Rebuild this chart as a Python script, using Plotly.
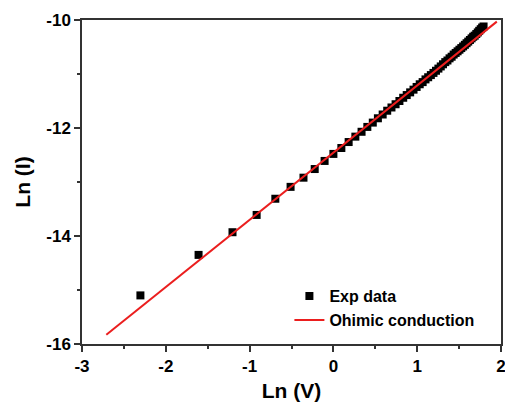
import plotly.graph_objects as go

# Experimental data: Ln(V) and Ln(I)
ln_v = [-2.303, -1.609, -1.204, -0.916, -0.693, -0.511, -0.357, -0.223, -0.105, 0.000,
        0.095, 0.182, 0.262, 0.336, 0.405, 0.470, 0.531, 0.588, 0.642, 0.693,
        0.742, 0.788, 0.833, 0.875, 0.916, 0.956, 0.993, 1.030, 1.065, 1.099,
        1.131, 1.163, 1.194, 1.224, 1.253, 1.281, 1.308, 1.335, 1.361, 1.386,
        1.411, 1.435, 1.459, 1.482, 1.504, 1.526, 1.548, 1.569, 1.589, 1.609,
        1.629, 1.649, 1.668, 1.686, 1.705, 1.723, 1.740, 1.758, 1.775, 1.792]
ln_i = [-15.10, -14.35, -13.93, -13.61, -13.31, -13.09, -12.92, -12.76, -12.61, -12.48,
        -12.37, -12.26, -12.16, -12.07, -11.98, -11.90, -11.82, -11.75, -11.68, -11.62,
        -11.56, -11.50, -11.44, -11.39, -11.34, -11.29, -11.24, -11.19, -11.15, -11.10,
        -11.06, -11.02, -10.98, -10.94, -10.90, -10.86, -10.82, -10.78, -10.75, -10.71,
        -10.68, -10.64, -10.61, -10.58, -10.55, -10.52, -10.49, -10.46, -10.43, -10.40,
        -10.37, -10.34, -10.31, -10.29, -10.26, -10.23, -10.20, -10.17, -10.14, -10.12]

# Ohmic conduction fit line
fit_x = [-2.71, 1.95]
fit_y = [-15.83, -10.03]

x_ticks = [-3, -2, -1, 0, 1, 2]
x_labels = ["-3", "-2", "-1", "0", "1", "2"]
y_ticks = [-16, -14, -12, -10]
y_labels = ["-16", "-14", "-12", "-10"]

FONT = "Arial, Liberation Sans, sans-serif"
AX = "#333333"

fig = go.Figure()
fig.add_trace(go.Scatter(
    x=ln_v, y=ln_i, mode="markers", name="Exp data",
    marker=dict(symbol="square", size=8, color="black", line=dict(width=0)),
))
fig.add_trace(go.Scatter(
    x=fit_x, y=fit_y, mode="lines", name="Ohimic conduction",
    line=dict(color="rgb(235,30,30)", width=2),
))

axis_common = dict(
    showline=True, linecolor=AX, linewidth=1.5, mirror=True,
    ticks="outside", ticklen=6, tickwidth=1.5, tickcolor=AX,
    showgrid=False, zeroline=False, automargin=False,
    ticklabeloverflow="allow",
    tickfont=dict(family=FONT, size=17, color="black", weight="bold"),
)

fig.update_xaxes(
    range=[-3, 2], tickvals=x_ticks, ticktext=x_labels,
    minor=dict(ticks="outside", ticklen=3, tickwidth=1.5, tickcolor=AX, dtick=0.5, showgrid=False),
    title=dict(text="Ln (V)", font=dict(family=FONT, size=21, color="black", weight="bold"), standoff=8),
    **axis_common,
)
fig.update_yaxes(
    range=[-16, -10], tickvals=y_ticks, ticktext=y_labels,
    minor=dict(ticks="outside", ticklen=3, tickwidth=1.5, tickcolor=AX, dtick=1, showgrid=False),
    title=dict(text="Ln (I)", font=dict(family=FONT, size=21, color="black", weight="bold"), standoff=10),
    **axis_common,
)

fig.update_layout(
    width=505, height=405,
    margin=dict(l=82, r=4, t=20, b=61),
    plot_bgcolor="white", paper_bgcolor="white",
    showlegend=True,
    legend=dict(
        x=0.495, y=0.20, xanchor="left", yanchor="top",
        bgcolor="rgba(0,0,0,0)", borderwidth=0,
        font=dict(family=FONT, size=16, color="black", weight="bold"),
        itemwidth=30, tracegroupgap=0,
    ),
)

fig.write_html("out.html")
